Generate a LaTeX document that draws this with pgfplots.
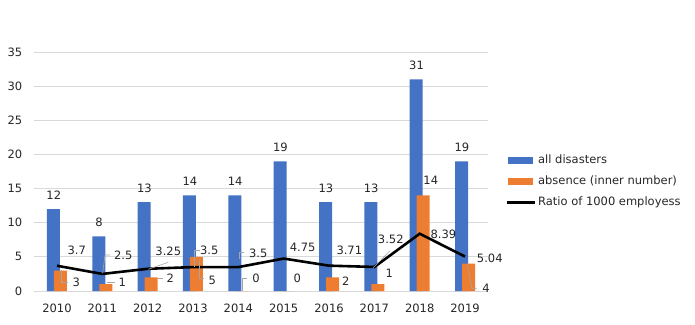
\documentclass[border=0pt]{standalone}
\usepackage{fontspec}
\setmainfont{DejaVu Sans}
\usepackage{pgfplots}
\pgfplotsset{compat=1.18}
\usepackage{pgfplotstable}
\definecolor{cblue}{HTML}{4472C4}
\definecolor{corange}{HTML}{ED7D31}
\definecolor{cgrid}{HTML}{D9D9D9}
\definecolor{ctext}{HTML}{262626}
\newcommand{\lf}{\fontsize{11.5}{13}\selectfont}

\pgfplotstableread{
x all absence ratio
0 12 3 3.7
1 8 1 2.5
2 13 2 3.25
3 14 5 3.5
4 14 0 3.5
5 19 0 4.75
6 13 2 3.71
7 13 1 3.52
8 31 14 8.39
9 19 4 5.04
}\datatable

\pgfplotstableread{
x y label
-0.07 14.06 12
0.93 10.06 8
1.93 15.06 13
2.93 16.06 14
3.93 16.06 14
4.93 21.06 19
5.93 15.06 13
6.93 15.06 13
7.93 33.06 31
8.93 21.06 19
}\bluelabels

\pgfplotstableread{
x y label
0.426 1.22 3
1.440 1.22 1
2.499 1.80 2
3.426 1.61 5
4.390 1.86 0
5.301 1.86 0
6.369 1.36 2
7.331 2.59 1
8.244 16.15 14
9.464 0.34 4
}\orangelabels

\pgfplotstableread{
x y label
0.435 5.90 3.7
1.463 5.17 2.5
2.455 5.75 3.25
3.360 5.90 3.5
4.441 5.52 3.5
5.420 6.40 4.75
6.448 6.00 3.71
7.362 7.61 3.52
8.522 8.24 8.39
9.546 4.83 5.04
}\linelabels

\begin{document}
\begin{tikzpicture}[x=1pt,y=1pt]
\useasboundingbox (0,0) rectangle (695,324);
\begin{axis}[
  at={(34.3pt,33pt)}, anchor=south west,
  scale only axis, width=453.4pt, height=239pt,
  xmin=-0.5, xmax=9.5, ymin=0, ymax=35,
  xtick={0,1,2,3,4,5,6,7,8,9},
  xticklabels={2010,2011,2012,2013,2014,2015,2016,2017,2018,2019},
  ytick={0,5,10,15,20,25,30,35},
  ymajorgrids, major grid style={cgrid, line width=0.8pt},
  axis line style={draw=none},
  major tick length=0pt,
  tick label style={font=\lf, text=ctext},
  yticklabel style={xshift=-8.5pt},
  xticklabel style={yshift=-9pt},
  /pgf/number format/assume math mode=true,
  clip=false,
  legend style={at={(1.04,0.459)}, anchor=west, draw=none, fill=none,
    font=\lf, text=ctext, inner sep=0pt, row sep=6pt,
    nodes={inner sep=1.5pt, text height=9pt, text depth=3pt}},
  legend cell align=left,
]
\addplot[ybar, bar width=13pt, bar shift=-3.5pt, fill=cblue, draw=none,
  legend image code/.code={\fill[cblue] (0pt,-3.3pt) rectangle (25pt,3.3pt);}]
  table[x=x, y=all] {\datatable};
\addlegendentry{all disasters}
\addplot[ybar, bar width=13pt, bar shift=3.5pt, fill=corange, draw=none,
  legend image code/.code={\fill[corange] (0pt,-3.3pt) rectangle (25pt,3.3pt);}]
  table[x=x, y=absence] {\datatable};
\addlegendentry{absence (inner number)}
\addplot[black, line width=2.6pt, mark=none,
  legend image code/.code={\draw[black, line width=2.6pt] (-1pt,0pt) -- (27pt,0pt);}]
  table[x=x, y=ratio] {\datatable};
\addlegendentry{Ratio of 1000 employess}

% leader lines
\addplot[gray!70, line width=0.6pt, forget plot] coordinates {(0.104,3.07) (0.104,1.22) (0.249,1.22)};
\addplot[gray!70, line width=0.6pt, forget plot] coordinates {(1.11,1.27) (1.28,1.27)};
\addplot[gray!70, line width=0.6pt, forget plot] coordinates {(1.008,2.59) (1.059,5.27) (1.17,5.27)};
\addplot[gray!70, line width=0.6pt, forget plot] coordinates {(2.235,1.86) (2.345,1.86)};
\addplot[gray!70, line width=0.6pt, forget plot] coordinates {(2.014,3.18) (2.455,4.2)};
\addplot[gray!70, line width=0.6pt, forget plot] coordinates {(3.029,3.51) (3.029,5.99) (3.155,5.99)};
\addplot[gray!70, line width=0.6pt, forget plot] coordinates {(3.139,4.54) (3.139,1.86) (3.243,1.86)};
\addplot[gray!70, line width=0.6pt, forget plot] coordinates {(4.015,4.64) (4.015,5.61) (4.125,5.61)};
\addplot[gray!70, line width=0.6pt, forget plot] coordinates {(4.088,0) (4.088,1.86) (4.198,1.86)};
\addplot[gray!70, line width=0.6pt, forget plot] coordinates {(6.978,3.41) (7.346,5.9)};
\addplot[gray!70, line width=0.6pt, forget plot] coordinates {(9.051,3.81) (9.148,0.40) (9.259,0.40)};

% labels
\addplot[draw=none, mark=none, forget plot, nodes near coords, point meta=explicit symbolic,
  nodes near coords style={anchor=center, font=\lf, text=ctext, inner sep=0pt}]
  table[x=x, y=y, meta=label] {\bluelabels};
\addplot[draw=none, mark=none, forget plot, nodes near coords, point meta=explicit symbolic,
  nodes near coords style={anchor=center, font=\lf, text=ctext, inner sep=0pt}]
  table[x=x, y=y, meta=label] {\orangelabels};
\addplot[draw=none, mark=none, forget plot, nodes near coords, point meta=explicit symbolic,
  nodes near coords style={anchor=center, font=\lf, text=ctext, inner sep=0pt}]
  table[x=x, y=y, meta=label] {\linelabels};
\end{axis}
\end{tikzpicture}
\end{document}
